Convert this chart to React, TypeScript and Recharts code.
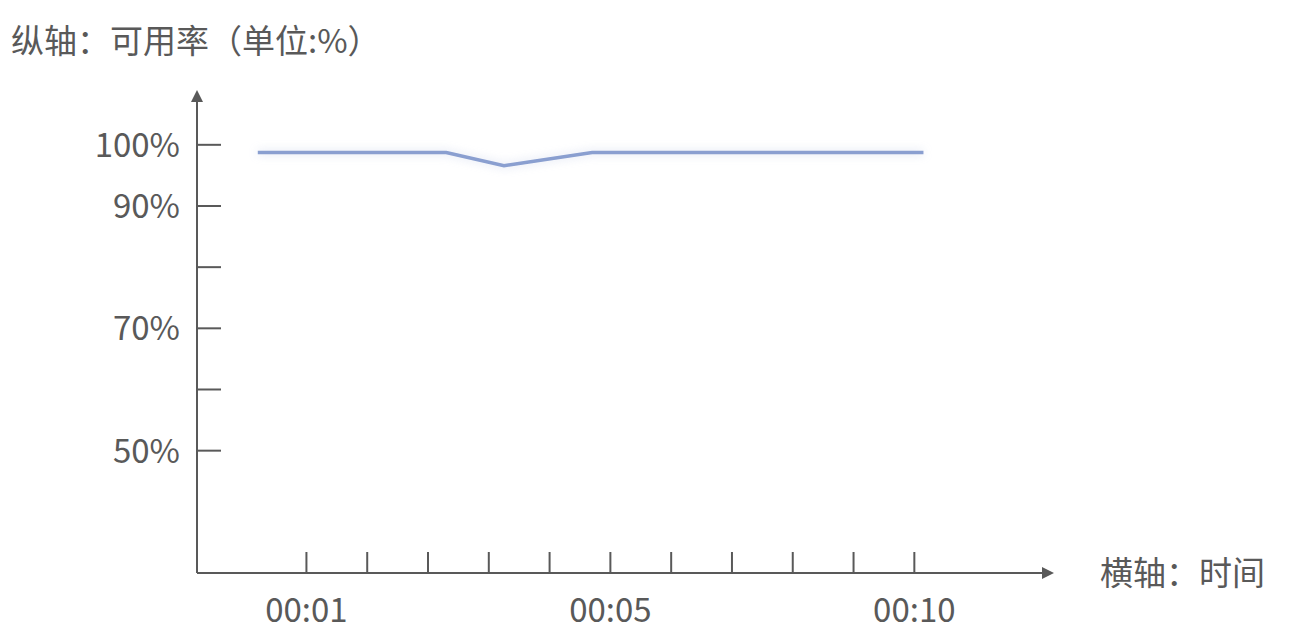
import React from "react";
import { LineChart, Line, XAxis, YAxis } from "recharts";

// x positions in tick units (tick 0 = 00:01)
const timePoints = [-0.8, 2.3, 3.25, 4.7, 10.15];
const availability = [98.75, 98.75, 96.6, 98.75, 98.75];

const xTicks = [0, 1, 2, 3, 4, 5, 6, 7, 8, 9, 10];
const xTickLabels = ["00:01", "", "", "", "", "00:05", "", "", "", "", "00:10"];

const yTicks = [50, 60, 70, 80, 90, 100];
const yTickLabels = ["50%", "", "70%", "", "90%", "100%"];

const yTitle = "纵轴：可用率（单位:%）";
const xTitle = "横轴：时间";

const data = timePoints.map((t, i) => ({ t, value: availability[i] }));

const axisColor = "#595959";
const textColor = "#595959";
const font = '"Noto Sans CJK SC", "Noto Sans", sans-serif';
const fontSize = 33;

const YTick = (props: any) => {
  const { x, y, payload } = props;
  const label = yTickLabels[yTicks.indexOf(payload.value)];
  return (
    <g>
      <line x1={x} y1={y} x2={x + 24} y2={y} stroke={axisColor} strokeWidth={2} />
      {label && (
        <text x={x - 17} y={y} dy="0.36em" textAnchor="end" fill={textColor} fontSize={fontSize} fontFamily={font}>
          {label}
        </text>
      )}
    </g>
  );
};

const XTick = (props: any) => {
  const { x, y, payload } = props;
  const label = xTickLabels[xTicks.indexOf(payload.value)];
  return (
    <g>
      <line x1={x} y1={y + 1} x2={x} y2={y - 21} stroke={axisColor} strokeWidth={2} />
      {label && (
        <text x={x} y={y + 37} dy="0.36em" textAnchor="middle" fill={textColor} fontSize={fontSize} fontFamily={font}>
          {label}
        </text>
      )}
    </g>
  );
};

const App = () => {
  return (
    <div style={{ position: "absolute", left: 0, top: 0, width: 1296, height: 640, background: "#fff" }}>
      <style>{`.recharts-line-curve{filter:drop-shadow(0 0 5px rgba(138,159,208,0.35));}`}</style>
      <div
        style={{
          position: "absolute",
          left: 11,
          top: 23,
          fontSize,
          lineHeight: 1,
          fontFamily: font,
          color: textColor,
          whiteSpace: "nowrap",
        }}
      >
        {yTitle}
      </div>
      <div
        style={{
          position: "absolute",
          left: 1100,
          top: 555,
          fontSize,
          lineHeight: 1,
          fontFamily: font,
          color: textColor,
          whiteSpace: "nowrap",
        }}
      >
        {xTitle}
      </div>
      <LineChart width={1296} height={640} data={data} margin={{ top: 102, right: 254, bottom: 0, left: 0 }}>
        <defs>
          <marker
            id="axisArrow"
            viewBox="0 0 12 12"
            refX={0}
            refY={6}
            markerWidth={12}
            markerHeight={12}
            markerUnits="userSpaceOnUse"
            orient="auto-start-reverse"
          >
            <path d="M0,0 L12,6 L0,12 z" fill={axisColor} />
          </marker>
        </defs>
        <XAxis
          dataKey="t"
          type="number"
          domain={[-1.8, 12.1]}
          ticks={xTicks}
          interval={0}
          height={67}
          tickSize={0}
          tickMargin={0}
          tickLine={false}
          axisLine={{ stroke: axisColor, strokeWidth: 2, markerEnd: "url(#axisArrow)" }}
          tick={<XTick />}
        />
        <YAxis
          type="number"
          domain={[30, 107]}
          ticks={yTicks}
          interval={0}
          width={197}
          tickSize={0}
          tickMargin={0}
          tickLine={false}
          axisLine={{ stroke: axisColor, strokeWidth: 2, markerStart: "url(#axisArrow)" }}
          tick={<YTick />}
        />
        <Line
          type="linear"
          dataKey="value"
          stroke="#8A9FD0"
          strokeWidth={3.5}
          dot={false}
          activeDot={false}
          isAnimationActive={false}
        />
      </LineChart>
    </div>
  );
};

export default App;
